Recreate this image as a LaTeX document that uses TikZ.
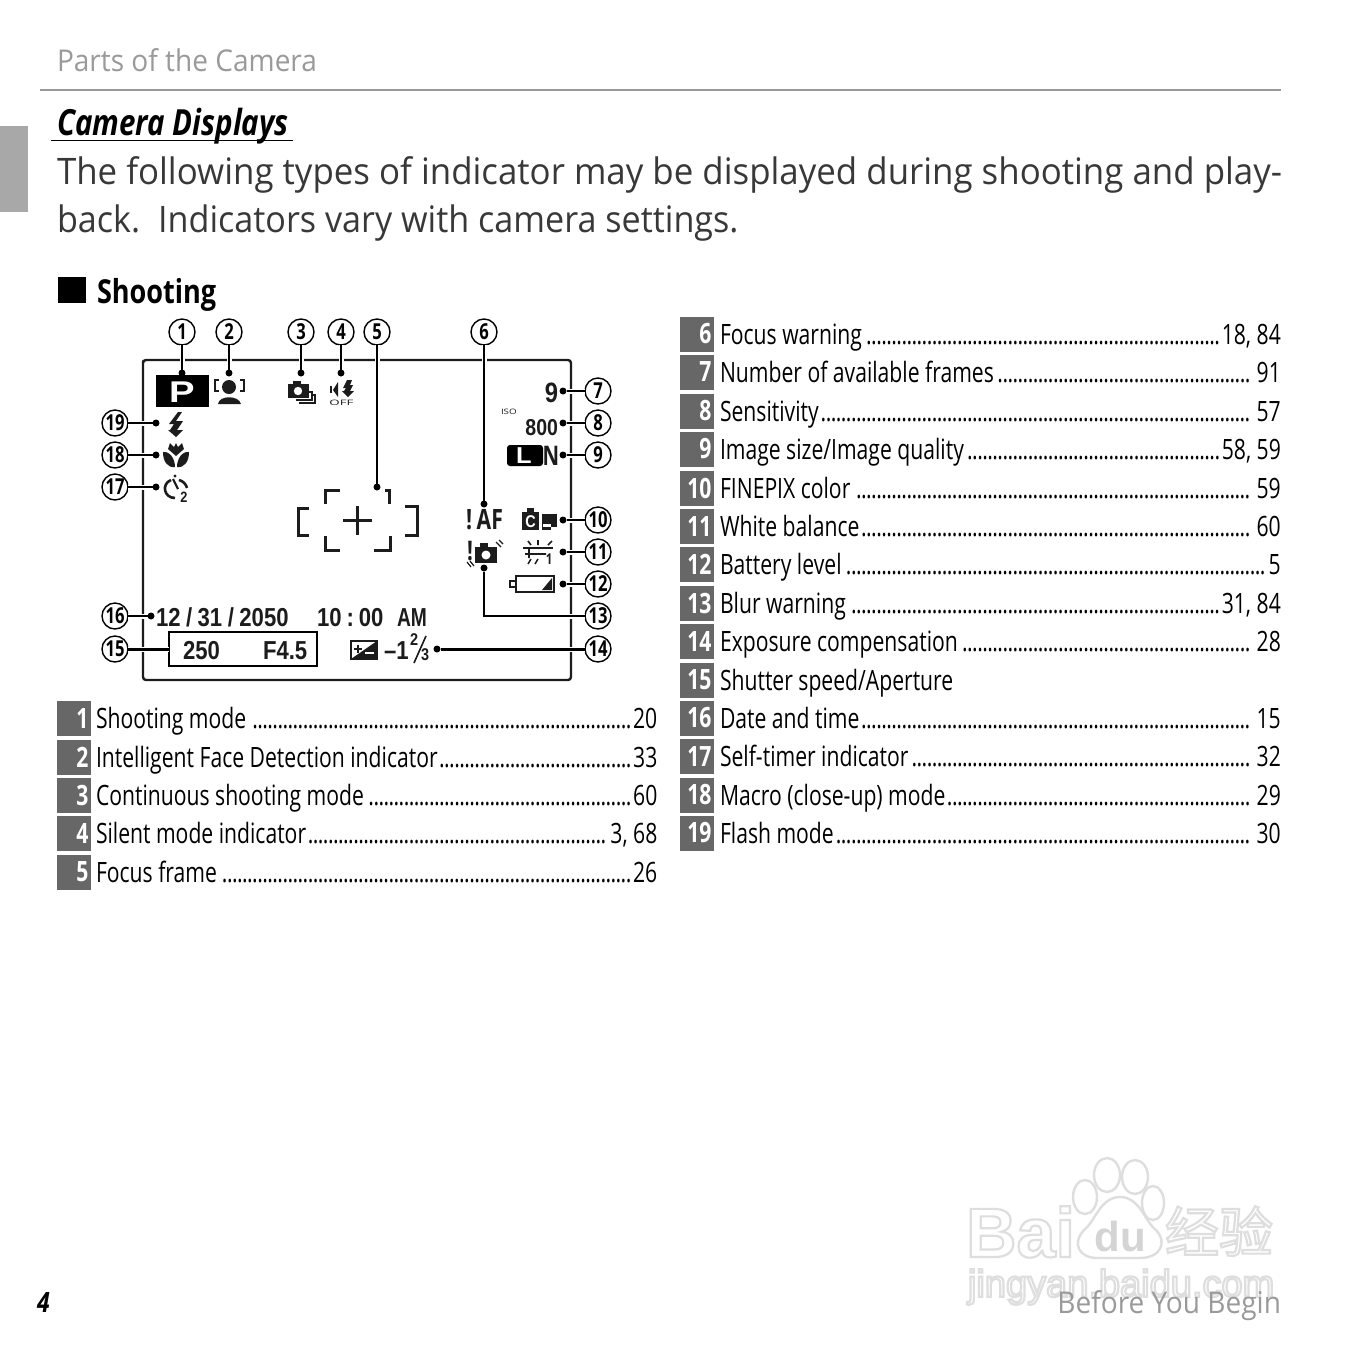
\documentclass[tikz,border=0pt]{standalone}
\usepackage{fontspec}
\usepackage{tikz}
\usetikzlibrary{positioning,calc,shapes.geometric}
\setmainfont[FakeStretch=0.935]{Open Sans}
\newfontfamily\bodyfont[FakeStretch=0.955]{Open Sans}
\newfontfamily\condfont[FakeStretch=0.755]{Open Sans}
\newfontfamily\headfont[FakeStretch=0.82]{Open Sans}
\newfontfamily\lcdfont[FakeStretch=0.85]{Liberation Sans}
\newfontfamily\markfont{Liberation Sans}
\newfontfamily\cjkmark{Noto Sans CJK SC}
\definecolor{bk70}{HTML}{676767}
\definecolor{bk50}{HTML}{9A9A9A}
\definecolor{bk30}{HTML}{A8A8A8}
\definecolor{ink}{HTML}{1C1C1C}
\definecolor{copy}{HTML}{383838}
\definecolor{mark}{HTML}{DEDEDE}
\newcommand{\leaderdots}{\leaders\hbox to 5.05pt{\hss.\hss}\hfill}
\newcommand{\outlinetext}[1]{\special{pdf:code 1 Tr 2.2 w}#1\special{pdf:code 0 Tr}}
\tikzset{
  every node/.style={inner sep=0pt, outer sep=0pt},
  chip/.style={rectangle, fill=bk70, text=white, minimum width=34pt, minimum height=35pt,
    align=right, font=\fontsize{28}{30}\condfont\bfseries},
  rowtext/.style={anchor=base west, text=black, font=\fontsize{28}{30}\condfont},
  callout/.style={circle, draw=black, fill=white, line width=1.4pt, minimum size=26pt,
    font=\fontsize{22}{24}\condfont\bfseries},
  tie/.style={line width=2pt, draw=black, preaction={draw=white, line width=5pt}},
  dotend/.style={circle, fill=black, minimum size=7pt},
  lcd/.style={text=ink, font=\fontsize{26}{28}\lcdfont\bfseries},
  frameline/.style={line width=2.4pt, draw=ink, line cap=round, line join=round},
  wmark/.style={text=mark, line width=1pt}
}
\begin{document}
\begin{tikzpicture}[x=1pt,y=-1pt]
  \useasboundingbox (0,0) rectangle (1361,1361);
  \fill[white] (0,0) rectangle (1361,1361);

  % page head
  \fill[bk30] (0,126) rectangle (28,212);
  \draw[bk50, line width=1.6pt] (40,90) -- (1281,90);
  \node[anchor=base west, text=bk50, font=\fontsize{30}{32}\selectfont] (head) at (57,71.5) {Parts of the Camera};
  \node[anchor=base west, text=black, font=\fontsize{36}{38}\headfont\bfseries\itshape] (title) at (57,135) {Camera Displays};
  \draw[black, line width=1.6pt] (51,140.5) -- (293,140.5);
  \node[anchor=west, text=copy, font=\fontsize{36.5}{48}\bodyfont, align=left] (intro) at (57,199)
    {The following types of indicator may be displayed during shooting and play-\\
     \normalfont back.\hspace{18pt}Indicators vary with camera settings.};
  \fill[black] (58,277) rectangle (86,303);
  \node[anchor=base west, text=black, font=\fontsize{33}{36}\headfont\bfseries] (shooting) at (97,303) {Shooting};

  % monitor
  \draw[frameline] (143,364) [rounded corners=3pt] -- (143,360) -- (571,360) -- (571,680) -- (143,680) -- cycle;

  % icons
  \fill[black] (156,375) rectangle (209,407);
  \node[text=white, font=\fontsize{30}{30}\lcdfont\bfseries] (modeP) at (182,392) {\scalebox{1.5}[1]{P}};
  \fill[ink] (229,387) circle (7);
  \fill[ink] (218,404) .. controls (219,395) and (239,395) .. (241,404) -- cycle;
  \draw[ink, line width=1.5pt] (219,380) -- (215,380) -- (215,391) -- (219,391);
  \draw[ink, line width=1.5pt] (240,380) -- (244,380) -- (244,391) -- (240,391);
  \draw[ink, line width=1.4pt] (309,392) -- (312,392) -- (312,400) -- (296,400) (313,395) -- (315,395) -- (315,403) -- (299,403);
  \fill[ink] (288,384) rectangle (309,398);
  \fill[ink] (293,381) rectangle (301,385);
  \fill[white] (298,391) circle (4.2);
  \fill[ink] (330,386) rectangle (332,393);
  \fill[ink] (333,390) -- (338,382) -- (338,397) -- cycle;
  \fill[ink] (347,380) -- (343,388) -- (346,388) -- (344,391) -- (342,391) -- (348,397) -- (354,391) -- (350,391) -- (353,385) -- (350,385) -- (352,380) -- cycle;
  \node[text=ink, font=\fontsize{7.5}{8}\selectfont] (silentoff) at (341.5,402.5) {\scalebox{1.9}[1]{OFF}};

  \fill[ink] (178,412) -- (169,424) -- (174,424) -- (170,430) -- (168,430) -- (176,437) -- (183,430) -- (177,430) -- (183,421) -- (176,421) -- (182,412) -- cycle;
  \fill[ink] (170,443) -- (174,447) -- (176,443) -- (178,447) -- (182,443) -- (184,449) -- (176,456) -- (168,449) -- cycle;
  \fill[ink] (163,452) .. controls (170,451) and (175,459) .. (175,467) .. controls (168,468) and (163,462) .. (163,452) -- cycle;
  \fill[ink] (189,452) .. controls (182,451) and (177,459) .. (177,467) .. controls (184,468) and (189,462) .. (189,452) -- cycle;
  \draw[ink, line width=2.6pt] (171,480) .. controls (161,484) and (164,498) .. (175,498);
  \draw[ink, line width=2.6pt] (179,480) .. controls (183,481) and (186,484) .. (187,488);
  \draw[ink, line width=2.2pt] (173,479) -- (178,489);
  \fill[ink] (175,476) circle (1.6);
  \node[text=ink, font=\fontsize{15}{15}\lcdfont\bfseries] (timertwo) at (184,497) {2};

  \draw[ink, line width=3pt] (309,508) -- (298,508) -- (298,535) -- (309,535);
  \draw[ink, line width=3pt] (340,490) -- (325,490) -- (325,504);
  \draw[ink, line width=3pt] (340,550) -- (325,550) -- (325,536);
  \draw[ink, line width=3pt] (385,490) -- (389,490) -- (389,504);
  \draw[ink, line width=3pt] (374,550) -- (390,550) -- (390,536);
  \draw[ink, line width=3pt] (405,506) -- (417,506) -- (417,535) -- (405,535);
  \draw[ink, line width=3pt] (343,520) -- (372,520) (357.5,506) -- (357.5,535);

  \node[lcd, anchor=east, font=\fontsize{28}{28}\lcdfont\bfseries] (frames) at (558,393) {9};
  \node[text=ink, anchor=west, font=\fontsize{7.5}{8}\selectfont] (isotag) at (501,412) {\scalebox{1.4}[1]{ISO}};
  \node[lcd, anchor=east, font=\fontsize{23}{24}\lcdfont\bfseries] (isoval) at (558,428) {800};
  \fill[black, rounded corners=3pt] (507,445) rectangle (543,466);
  \node[text=white, font=\fontsize{23}{24}\lcdfont\bfseries] (sizeL) at (524,456) {\scalebox{1.3}[1]{L}};
  \node[text=ink, font=\fontsize{27}{26}\condfont\bfseries] (sizeN) at (551,456) {N};
  \node[text=ink, anchor=west, font=\fontsize{28}{28}\condfont\bfseries] (afwarn) at (466,520) {!\,AF};

  \fill[ink] (522,512) rectangle (539,530);
  \fill[ink] (527,508) rectangle (534,513);
  \node[text=white, font=\fontsize{17}{17}\lcdfont\bfseries] (colorC) at (530.5,521.5) {C};
  \fill[ink] (542,514) rectangle (557,527);
  \fill[white] (543,524) rectangle (551,527);
  \fill[ink] (542,527) rectangle (551,530);
  \draw[ink, line width=2.4pt] (523,548) -- (553,548);
  \draw[ink, line width=1.6pt] (525,554) -- (546,554) (529,548) -- (529,558) (528,541) -- (531,545) (538,540) -- (538,545) (552,541) -- (548,545);
  \draw[ink, line width=1.5pt] (531,559) -- (528,564) (538,559) -- (535,564);
  \node[text=ink, font=\fontsize{15}{15}\condfont\bfseries] (wbone) at (549,559) {1};
  \draw[ink, line width=1.6pt] (516,576) rectangle (554,592);
  \draw[ink, line width=1.6pt] (516,581) -- (510,581) -- (510,587) -- (516,587);
  \fill[ink] (552,578) -- (552,590) -- (542,590) -- cycle;
  \node[text=ink, font=\fontsize{27}{28}\condfont\bfseries] (blurmark) at (470,551) {!};
  \fill[ink] (475,547) rectangle (497,563);
  \fill[ink] (480,543) rectangle (488,548);
  \fill[white] (486,555) circle (4.5);
  \draw[ink, line width=1.2pt] (496,542) -- (501,547) (499,540) -- (503,544) (470,561) -- (474,566) (467,562) -- (471,567);

  \node[lcd, anchor=base west] (datestamp) at (156,626) {12\hspace{5.5pt}/\hspace{5.5pt}31\hspace{5.5pt}/\hspace{5.5pt}2050};
  \node[lcd, anchor=base west] (timestamp) at (317,626) {10\hspace{5pt}:\hspace{5pt}00};
  \node[lcd, anchor=base west] (ampm) at (397,626) {\scalebox{.87}[1]{AM}};
  \node[draw=black, line width=2.2pt, minimum width=148pt, minimum height=34pt] (shutterbox) at (243,649) {};
  \node[lcd, anchor=base west] (shutterval) at (183,659) {250};
  \node[lcd, anchor=base west] (apertureval) at (263,659) {F4.5};
  \draw[ink, line width=1.5pt] (351,641) rectangle (377,659);
  \fill[ink] (377,641) -- (377,659) -- (351,659) -- cycle;
  \draw[ink, line width=1.6pt] (354,649) -- (362,649) (358,645) -- (358,653);
  \draw[white, line width=1.6pt] (365,653) -- (374,653);
  \node[lcd, anchor=base west] (expval) at (384,659) {–1};
  \node[lcd, anchor=west, font=\fontsize{17}{16}\lcdfont\bfseries] (expnum) at (410,640) {2};
  \node[lcd, anchor=west, font=\fontsize{17}{16}\lcdfont\bfseries] (expden) at (421,655) {3};
  \draw[ink, line width=1.6pt] (414,663) -- (426,636);

  % callouts and ties
  \foreach \n/\x/\y in {1/182/332,2/229/332,3/301/332,4/341/332,5/377/332,6/484/332,
      7/598/391,8/598/423,9/598/455,10/598/520,11/598/552,12/598/584,13/598/616,14/598/649,
      15/115/649,16/115/616,17/115/487,18/115/455,19/115/423}
    \node[callout] (call\n) at (\x,\y) {\n};
  \foreach \n/\x/\y in {1/182/373,2/229/373,3/301/373,4/341/373,5/377/487,6/484/504,
      7/563/391,8/563/423,9/563/455,10/563/520,11/563/552,12/563/584,13/484/568,
      16/151/616,17/156/487,18/156/455,19/156/423}
    \node[dotend] (tip\n) at (\x,\y) {};
  \node[dotend] (tip14) at (437,649) {};
  \foreach \n in {1,2,3,4,5,6}
    \draw[tie] (call\n) -- (tip\n);
  \foreach \n in {7,8,9,10,11,12,16,17,18,19}
    \draw[tie] (call\n) -- (tip\n);
  \draw[tie] (call13) -| (tip13);
  \draw[tie, line width=3pt] (call14) -- (tip14);
  \draw[tie, line width=3pt] (call15) -- (shutterbox);

  % legend
  \foreach \n/\lab/\pg/\y in {1/Shooting mode/20/718,2/Intelligent Face Detection indicator/33/757,
      3/Continuous shooting mode/60/795,4/Silent mode indicator/{3, 68}/833,5/Focus frame/26/872} {
    \node[chip] (chip\n) at (74,\y) {\hbox to 29pt{\hfill\n}};
    \node[rowtext] (row\n) at (96,\y+10) {\hbox to 561.5pt{\lab\hspace{1.5pt}\leaderdots\hspace{2pt}\pg}};
  }
  \foreach \n/\lab/\pg/\y in {6/Focus warning/{18, 84}/334,7/Number of available frames/91/372,
      8/Sensitivity/57/411,9/{Image size/Image quality}/{58, 59}/449,10/FINEPIX color/59/488,
      11/White balance/60/526,12/Battery level/5/564,13/Blur warning/{31, 84}/603,
      14/Exposure compensation/28/641,16/Date and time/15/718,17/Self-timer indicator/32/756,
      18/Macro (close-up) mode/29/795,19/Flash mode/30/833} {
    \node[chip] (chip\n) at (697,\y) {\hbox to 29pt{\hfill\n}};
    \node[rowtext] (row\n) at (720,\y+10) {\hbox to 561pt{\lab\hspace{1.5pt}\leaderdots\hspace{2pt}\pg}};
  }
  \node[chip] (chip15) at (697,680) {\hbox to 29pt{\hfill 15}};
  \node[rowtext] (row15) at (720,690) {Shutter speed/Aperture};

  % watermark and foot
  \begin{scope}[draw=mark, line width=2.4pt]
    \draw (1085,1197) ellipse (12 and 17);
    \draw (1107,1175) ellipse (13 and 17);
    \draw (1135,1177) ellipse (13 and 17);
    \draw (1153,1203) ellipse (11 and 17);
    \draw (1120,1197) .. controls (1140,1197) and (1145,1222) .. (1156,1230) .. controls (1168,1243) and (1160,1258) .. (1140,1258)
      -- (1098,1258) .. controls (1078,1258) and (1072,1243) .. (1084,1230) .. controls (1095,1222) and (1100,1197) .. (1120,1197) -- cycle;
  \end{scope}
  \node[anchor=west, wmark, font=\fontsize{70}{70}\markfont\bfseries] (wmbai) at (966,1232) {\outlinetext{Bai}};
  \node[wmark, text=mark!130!white, font=\fontsize{42}{42}\markfont\bfseries] (wmdu) at (1120,1236) {du};
  \node[anchor=west, wmark, font=\fontsize{54}{54}\cjkmark] (wmcn) at (1165,1231) {\outlinetext{经验}};
  \node[anchor=west, wmark, font=\fontsize{38}{38}\markfont] (wmurl) at (968,1287) {\outlinetext{jingyan.baidu.com}};
  \node[anchor=base east, text=bk50, font=\fontsize{30}{32}\selectfont] (foot) at (1281,1313) {Before You Begin};
  \node[anchor=base west, text=black, font=\fontsize{28}{30}\headfont\bfseries\itshape] (pageno) at (37,1312) {4};
\end{tikzpicture}
\end{document}
